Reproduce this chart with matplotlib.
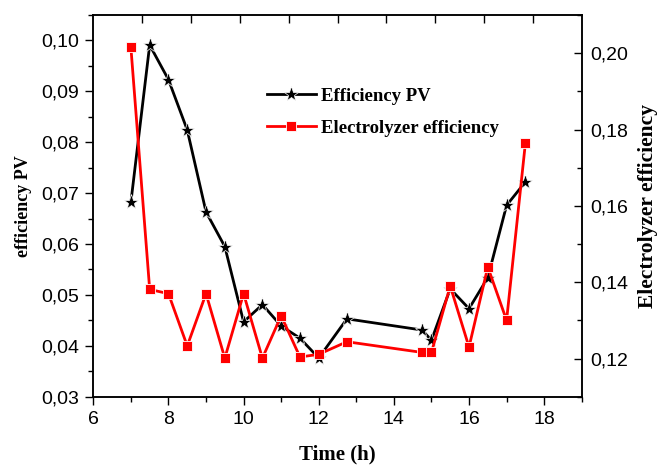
import matplotlib
matplotlib.use("Agg")
import matplotlib.pyplot as plt
from matplotlib.ticker import MultipleLocator, FuncFormatter

# data
time_pv = [7, 7.5, 8, 8.5, 9, 9.5, 10, 10.5, 11, 11.5, 12, 12.75, 14.75, 15, 15.5, 16, 16.5, 17, 17.5]
eff_pv = [0.0682, 0.0991, 0.0923, 0.0824, 0.0663, 0.0595, 0.0447, 0.0481, 0.0439, 0.0415, 0.0376,
          0.0453, 0.0431, 0.0411, 0.0512, 0.0473, 0.0534, 0.0676, 0.0722]
time_el = [7, 7.5, 8, 8.5, 9, 9.5, 10, 10.5, 11, 11.5, 12, 12.75, 14.75, 15, 15.5, 16, 16.5, 17, 17.5]
eff_el = [0.2015, 0.1381, 0.1370, 0.1233, 0.1370, 0.1201, 0.1370, 0.1201, 0.1312, 0.1204, 0.1211,
          0.1244, 0.1216, 0.1216, 0.1390, 0.1230, 0.1440, 0.1300, 0.1764]

comma = FuncFormatter(lambda v, p: f"{v:.2f}".replace(".", ","))
sans = "Liberation Sans"
serif_bold = dict(family="Liberation Serif", weight="bold")

fig = plt.figure(figsize=(6.6, 4.66), dpi=100)
pos = [0.1414, 0.1487, 0.74, 0.8191]
ax1 = fig.add_axes(pos)

l1, = ax1.plot(time_pv, eff_pv, color="black", lw=2, marker="*", ms=11,
               mec="white", mew=0.5, label="Efficiency PV")
ax1.set_xlim(6, 19)
ax1.set_ylim(0.03, 0.105)
ax1.xaxis.set_major_locator(MultipleLocator(2))
ax1.xaxis.set_minor_locator(MultipleLocator(1))
ax1.yaxis.set_major_locator(MultipleLocator(0.01))
ax1.yaxis.set_minor_locator(MultipleLocator(0.005))
ax1.yaxis.set_major_formatter(comma)
ax1.tick_params(which="major", direction="out", length=6, width=1, labelsize=14, pad=4)
ax1.tick_params(which="minor", direction="out", length=3.5, width=1)
for lab in ax1.get_xticklabels() + ax1.get_yticklabels():
    lab.set_family(sans)
ax1.set_xlabel("Time (h)", fontsize=15, labelpad=12, **serif_bold)
ax1.set_ylabel("efficiency PV", fontsize=13, labelpad=7, **serif_bold)

ax2 = ax1.twinx()
l2, = ax2.plot(time_el, eff_el, color="#ff0000", lw=2, marker="s", ms=7,
               mec="white", mew=0.6, label="Electrolyzer efficiency")
ax2.set_ylim(0.11, 0.21)
ax2.yaxis.set_major_locator(MultipleLocator(0.02))
ax2.yaxis.set_minor_locator(MultipleLocator(0.01))
ax2.yaxis.set_major_formatter(comma)
ax2.tick_params(which="major", direction="in", length=6, width=1, labelsize=14, pad=6)
ax2.tick_params(which="minor", direction="in", length=3.5, width=1)
for lab in ax2.get_yticklabels():
    lab.set_family(sans)
ax2.set_ylabel("Electrolyzer efficiency", fontsize=15.5, labelpad=7, **serif_bold)

# decorative top ticks (10 equal divisions)
ax3 = fig.add_axes(pos, frameon=False)
ax3.set_xlim(0, 10)
ax3.set_xticks(range(1, 10))
ax3.set_yticks([])
ax3.xaxis.tick_top()
ax3.tick_params(axis="x", direction="in", length=6, width=1, labeltop=False)
ax3.patch.set_alpha(0)

for ax in (ax1, ax2):
    for s in ax.spines.values():
        s.set_linewidth(1.1)

ax1.legend(handles=[l1, l2], loc="upper left", bbox_to_anchor=(0.34, 0.83),
           frameon=False, prop=dict(family="Liberation Serif", weight="bold", size=13.5),
           handlelength=2.6, handletextpad=0.3, labelspacing=0.8, borderaxespad=0)

fig.savefig("out.png", dpi=100)
